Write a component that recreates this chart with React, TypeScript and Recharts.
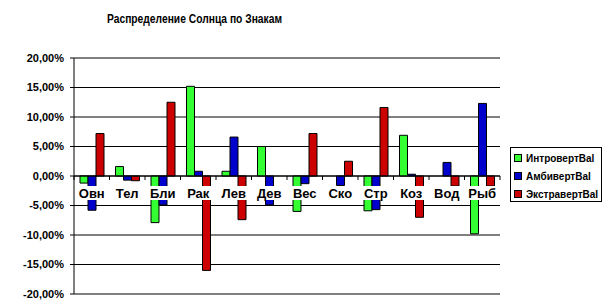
import React from 'react';
import { BarChart, Bar, XAxis, YAxis, CartesianGrid, ReferenceLine } from 'recharts';

const categories = ['Овн', 'Тел', 'Бли', 'Рак', 'Лев', 'Дев', 'Вес', 'Ско', 'Стр', 'Коз', 'Вод', 'Рыб'];
const introvert = [-1.2, 1.6, -7.9, 15.2, 0.8, 5.0, -6.0, 0, -5.9, 6.9, 0, -9.8];
const ambivert = [-5.8, -0.7, -4.9, 0.8, 6.6, -4.9, -1.3, -1.6, -5.7, 0.3, 2.3, 12.3];
const extravert = [7.2, -0.8, 12.5, -16.0, -7.4, 0, 7.2, 2.5, 11.6, -7.0, -1.7, -1.7];
const yTicks = [-20, -15, -10, -5, 0, 5, 10, 15, 20];

const series = [
  { key: 'intro', name: 'ИнтровертBal', color: '#33ff33' },
  { key: 'ambi', name: 'АмбивертBal', color: '#0000cc' },
  { key: 'extra', name: 'ЭкстравертBal', color: '#cc0000' },
];

const data = categories.map((name, i) => ({
  name,
  intro: introvert[i],
  ambi: ambivert[i],
  extra: extravert[i],
}));

const W = 615;
const H = 305;
const PLOT_TOP = 58;
const PLOT_BOTTOM = 294;
const PLOT_LEFT = 74;
const PLOT_RIGHT = 500;
const ZERO_Y = (PLOT_TOP + PLOT_BOTTOM) / 2;
const BAND = (PLOT_RIGHT - PLOT_LEFT) / categories.length;
const FONT = 'Arial, "Liberation Sans", sans-serif';

const fmt = (v: number) => v.toFixed(2).replace('.', ',') + '%';

const CategoryTick = (props: any) => {
  const { x, payload, index } = props;
  const last = index === categories.length - 1;
  return (
    <g>
      <line x1={x - BAND / 2} x2={x - BAND / 2} y1={ZERO_Y} y2={ZERO_Y + 4} stroke="#000" />
      {last && <line x1={x + BAND / 2} x2={x + BAND / 2} y1={ZERO_Y} y2={ZERO_Y + 4} stroke="#000" />}
      <rect x={x - 14} y={ZERO_Y + 10} width={28} height={14} fill="#fff" />
      <text x={x} y={ZERO_Y + 22} textAnchor="middle" fontSize={13} fontWeight="bold" fontFamily={FONT} fill="#000">
        {payload.value}
      </text>
    </g>
  );
};

const LegendBox = () => (
  <div
    style={{
      position: 'absolute',
      left: 510,
      top: 147,
      width: 92,
      height: 55,
      border: '1px solid #000',
      background: '#fff',
      boxSizing: 'border-box',
      paddingTop: 1,
    }}
  >
    {series.map((s) => (
      <div key={s.key} style={{ display: 'flex', alignItems: 'center', height: 18, paddingLeft: 3 }}>
        <span style={{ display: 'inline-block', width: 6, height: 6, background: s.color, border: '1px solid #000', marginRight: 4 }} />
        <span style={{ fontFamily: FONT, fontSize: 10, fontWeight: 'bold', color: '#000', whiteSpace: 'nowrap' }}>{s.name}</span>
      </div>
    ))}
  </div>
);

export default function App() {
  return (
    <div style={{ position: 'absolute', left: 0, top: 0, width: W, height: H, background: '#fff' }}>
      <svg width={W} height={40} style={{ position: 'absolute', left: 0, top: 0 }}>
        <text
          x={194.5}
          y={22.5}
          textAnchor="middle"
          fontFamily={FONT}
          fontSize={13}
          fontWeight="bold"
          textLength={175}
          lengthAdjust="spacingAndGlyphs"
          fill="#000"
        >
          Распределение Солнца по Знакам
        </text>
      </svg>
      <BarChart
        width={W}
        height={H}
        data={data}
        margin={{ top: PLOT_TOP, right: W - PLOT_RIGHT, bottom: H - PLOT_BOTTOM - 1, left: 0 }}
        barGap={0}
        barSize={8}
      >
        <CartesianGrid vertical={false} stroke="#000" strokeOpacity={1} />
        <YAxis
          width={PLOT_LEFT}
          domain={[-20, 20]}
          ticks={yTicks}
          interval={0}
          tickFormatter={fmt}
          tickSize={4}
          tickMargin={6}
          axisLine={{ stroke: '#000' }}
          tickLine={{ stroke: '#000' }}
          tick={{ fontSize: 11, fontWeight: 'bold', fontFamily: FONT, fill: '#000' }}
        />
        {series.map((s) => (
          <Bar key={s.key} dataKey={s.key} name={s.name} fill={s.color} stroke="#000" strokeWidth={1} isAnimationActive={false} />
        ))}
        <ReferenceLine y={0} stroke="#000" />
        <XAxis
          dataKey="name"
          height={1}
          interval={0}
          axisLine={false}
          tickLine={false}
          tickSize={0}
          tick={<CategoryTick />}
        />
      </BarChart>
      <LegendBox />
    </div>
  );
}
